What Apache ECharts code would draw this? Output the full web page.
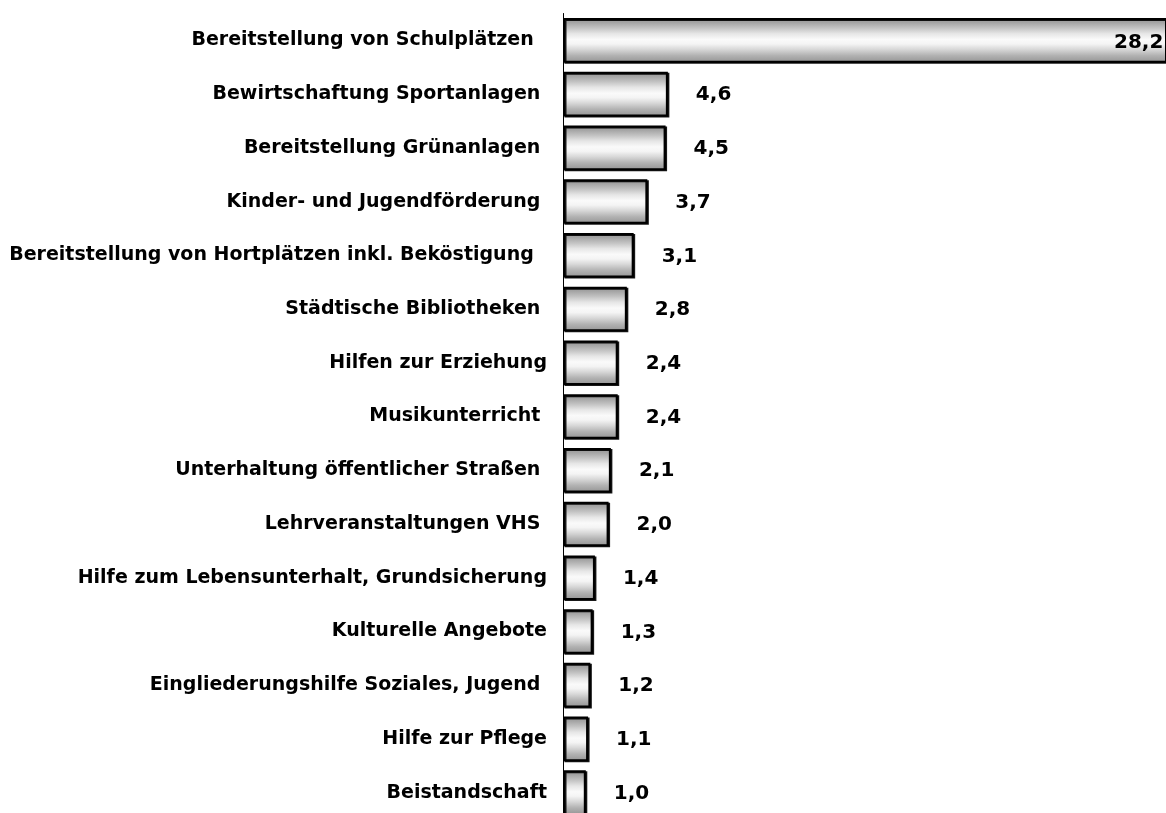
<!DOCTYPE html>
<html>
<head>
<meta charset="utf-8">
<script src="https://cdn.jsdelivr.net/npm/echarts@6/dist/echarts.min.js"></script>
<style>
  html, body { margin: 0; padding: 0; background: #fff; }
  #chart { width: 1166px; height: 813px; }
</style>
</head>
<body>
<div id="chart"></div>
<script>
// categories top to bottom, as in the picture
const categories = [
  'Bereitstellung von Schulplätzen  ',
  'Bewirtschaftung Sportanlagen ',
  'Bereitstellung Grünanlagen ',
  'Kinder- und Jugendförderung ',
  'Bereitstellung von Hortplätzen inkl. Beköstigung  ',
  'Städtische Bibliotheken ',
  'Hilfen zur Erziehung',
  'Musikunterricht ',
  'Unterhaltung öffentlicher Straßen ',
  'Lehrveranstaltungen VHS ',
  'Hilfe zum Lebensunterhalt, Grundsicherung',
  'Kulturelle Angebote',
  'Eingliederungshilfe Soziales, Jugend ',
  'Hilfe zur Pflege',
  'Beistandschaft'
];
const values = [28.2, 4.6, 4.5, 3.7, 3.1, 2.8, 2.4, 2.4, 2.1, 2.0, 1.4, 1.3, 1.2, 1.1, 1.0];

const fontFamily = '"DejaVu Sans", Verdana, sans-serif';
const fmt = v => v.toFixed(1).replace('.', ',');

// grey fill, darker at top and bottom, white in the middle
const barFill = new echarts.graphic.LinearGradient(0, 0, 0, 1, [
  { offset: 0.00, color: '#939393' },
  { offset: 0.10, color: '#a4a4a4' },
  { offset: 0.22, color: '#c2c2c2' },
  { offset: 0.35, color: '#e6e6e6' },
  { offset: 0.48, color: '#fafafa' },
  { offset: 0.58, color: '#f4f4f4' },
  { offset: 0.70, color: '#d8d8d8' },
  { offset: 0.84, color: '#b2b2b2' },
  { offset: 1.00, color: '#939393' }
]);

const seriesData = values.map((v, i) => {
  const item = { value: v };
  if (i === 0) {
    // the first bar runs off the plot, its label sits inside at the right edge
    item.label = { position: 'insideLeft', distance: 0, offset: [551, 2] };
  }
  return item;
});

const chart = echarts.init(document.getElementById('chart'));
chart.setOption({
  animation: false,
  backgroundColor: '#fff',
  // the plot runs past the bottom edge of the picture, as in the original
  grid: { left: 563, right: 0, top: 13.5, height: 806, containLabel: false, outerBoundsMode: 'none' },
  xAxis: {
    type: 'value',
    min: 0,
    max: 26.45,
    show: false
  },
  yAxis: {
    type: 'category',
    inverse: true,
    data: categories,
    axisLine: { show: true, lineStyle: { color: '#000', width: 1 } },
    axisTick: { show: false },
    axisLabel: {
      color: '#000',
      fontFamily,
      fontWeight: 'bold',
      fontSize: 19,
      margin: 16,
      padding: [6, 0, 0, 0]
    }
  },
  series: [{
    type: 'bar',
    data: seriesData,
    barCategoryGap: '17%',
    clip: true,
    itemStyle: {
      color: barFill,
      borderColor: '#000',
      borderWidth: 2,
      shadowColor: 'rgba(0,0,0,0.9)',
      shadowOffsetX: 1.5,
      shadowOffsetY: 1,
      shadowBlur: 0
    },
    label: {
      show: true,
      position: 'right',
      distance: 28,
      color: '#000',
      fontFamily,
      fontWeight: 'bold',
      fontSize: 20,
      offset: [0, 1],
      formatter: p => fmt(p.value)
    }
  }]
});
</script>
</body>
</html>
